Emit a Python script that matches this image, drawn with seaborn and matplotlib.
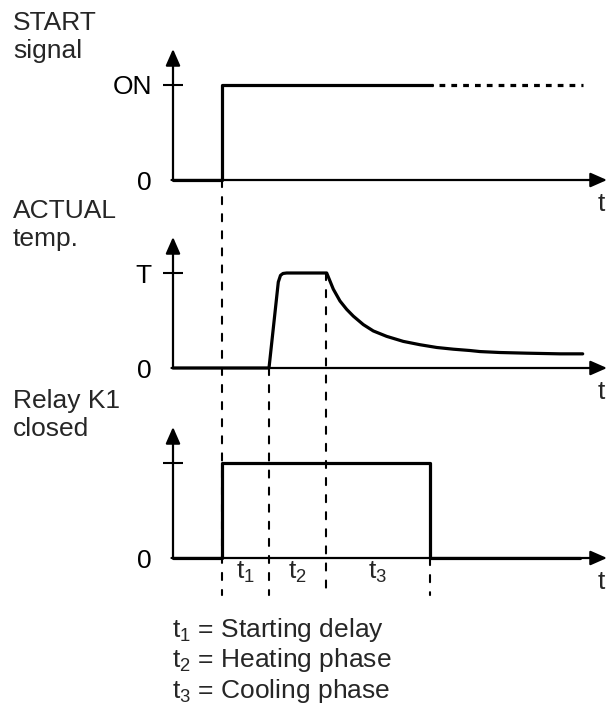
import matplotlib
matplotlib.use("Agg")
import matplotlib.pyplot as plt
from matplotlib.patches import ConnectionPatch
import pandas as pd
import seaborn as sns

# time axis runs 0..43.4 (arbitrary units), levels are 0 / 1
t_end = 43.4
t_start = 4.9      # START signal goes on
t_heat = 9.6       # heating begins (end of starting delay)
t_hold = 15.3      # end of heating phase
t_relay_off = 25.7 # relay K1 opens

# START signal
start_t = [0, t_start, t_start, 25.9]
start_v = [0, 0, 1, 1]
start_dotted_t = [25.9, 41.0]
start_dotted_v = [1, 1]

# ACTUAL temperature
temp_t = [0, 9.6, 10.53, 10.75, 11.0, 11.37, 15.3, 15.37, 16.03, 16.7, 17.37, 18.03,
          19.03, 20.03, 21.37, 23.03, 24.7, 26.37, 28.03, 29.7, 30.7, 32.7, 35.37,
          38.7, 40.97]
temp_v = [0, 0, 0.905, 0.975, 0.995, 1.0, 1.0, 1.0, 0.83, 0.705, 0.617, 0.546,
          0.457, 0.39, 0.333, 0.28, 0.245, 0.216, 0.198, 0.184, 0.173, 0.163, 0.156,
          0.149, 0.149]

# Relay K1
relay_t = [0, t_start, t_start, t_relay_off, t_relay_off, 40.7]
relay_v = [0, 0, 1, 1, 0, 0]

panel_titles = ["START\nsignal", "ACTUAL\ntemp.", "Relay K1\nclosed"]
level_labels = ["ON", "T", ""]
phase_labels = [r"$\mathregular{t_1}$", r"$\mathregular{t_2}$", r"$\mathregular{t_3}$"]
legend_lines = [r"$\mathregular{t_1}$ = Starting delay",
                r"$\mathregular{t_2}$ = Heating phase",
                r"$\mathregular{t_3}$ = Cooling phase"]

sns.set_style("white")
plt.rcParams["font.family"] = ["Liberation Sans", "DejaVu Sans"]
plt.rcParams["mathtext.fontset"] = "custom"
plt.rcParams["mathtext.rm"] = "Liberation Sans"
plt.rcParams["mathtext.it"] = "Liberation Sans:italic"
plt.rcParams["font.size"] = 19

W, H = 612, 716
fig = plt.figure(figsize=(W / 100, H / 100), dpi=100)

# axes: left edge at px 173, zero lines at px 180 / 368 / 558, 95 px per level unit
zero_px = [180, 368, 558]
axes = []
for z in zero_px:
    ax = fig.add_axes([173 / W, 1 - z / H, 434 / W, 131 / H])
    ax.set_xlim(0, t_end)
    ax.set_ylim(0, 131 / 95)
    ax.patch.set_visible(False)
    for s in ax.spines.values():
        s.set_visible(False)
    axes.append(ax)

sig_kw = dict(color="black", linewidth=2.3, estimator=None, sort=False, legend=False)

df_start = pd.DataFrame({"t": start_t, "v": start_v})
sns.lineplot(data=df_start, x="t", y="v", ax=axes[0], zorder=5, clip_on=False, **sig_kw)
df_dot = pd.DataFrame({"t": start_dotted_t, "v": start_dotted_v})
sns.lineplot(data=df_dot, x="t", y="v", ax=axes[0], zorder=5, clip_on=False,
             linestyle=(1.5, (1.8, 1.9)), **sig_kw)

df_temp = pd.DataFrame({"t": temp_t, "v": temp_v})
sns.lineplot(data=df_temp, x="t", y="v", ax=axes[1], zorder=5, clip_on=False, **sig_kw)

df_relay = pd.DataFrame({"t": relay_t, "v": relay_v})
sns.lineplot(data=df_relay, x="t", y="v", ax=axes[2], zorder=5, clip_on=False, **sig_kw)

arrow = dict(arrowstyle="-|>,head_length=0.5,head_width=0.22", color="black",
             lw=1.6, mutation_scale=20, shrinkA=0, shrinkB=0)

for i, ax in enumerate(axes):
    top = ax.get_ylim()[1]
    ax.annotate("", xy=(t_end, 0), xytext=(-0.15, 0), arrowprops=arrow,
                annotation_clip=False)
    ax.annotate("", xy=(0, top), xytext=(0, 0), arrowprops=arrow,
                annotation_clip=False)
    ax.set_xticks([])
    ax.set_xlabel("")
    ax.set_ylabel("")
    ax.set_yticks([0, 1])
    ax.set_yticklabels(["0", level_labels[i]])
    ax.tick_params(axis="y", direction="inout", length=14.4, width=1.5, pad=8,
                   colors="black", left=True)
    ax.yaxis.get_major_ticks()[0].tick1line.set_visible(False)
    ax.text(42.8, -0.33, "t", ha="center", va="baseline")
    # va="baseline" on a two-line text aligns the last line
    fig.text(13 / W, 1 - (zero_px[i] - 122) / H, panel_titles[i],
             ha="left", va="baseline")

# dashed guide lines through the panels
dash = dict(color="black", linewidth=1.5, linestyle=(0, (3.4, 4.8)), zorder=1)
guides = [(t_start, 0, 0), (t_heat, 1, 0), (t_hold, 1, 1), (t_relay_off, 2, 0)]
for t, ia, y0 in guides:
    cp = ConnectionPatch(xyA=(t, y0), coordsA=axes[ia].transData,
                         xyB=(t, -0.39), coordsB=axes[2].transData, **dash)
    fig.add_artist(cp)

# phase labels between the guide lines
bounds = [t_start, t_heat, t_hold, t_relay_off]
for k, lab in enumerate(phase_labels):
    axes[2].text((bounds[k] + bounds[k + 1]) / 2, -0.22, lab,
                 ha="center", va="baseline")

for k, line in enumerate(legend_lines):
    fig.text(172 / W, 1 - (637 + 30.5 * k) / H, line, ha="left", va="baseline")

fig.savefig("out.png", dpi=100)
